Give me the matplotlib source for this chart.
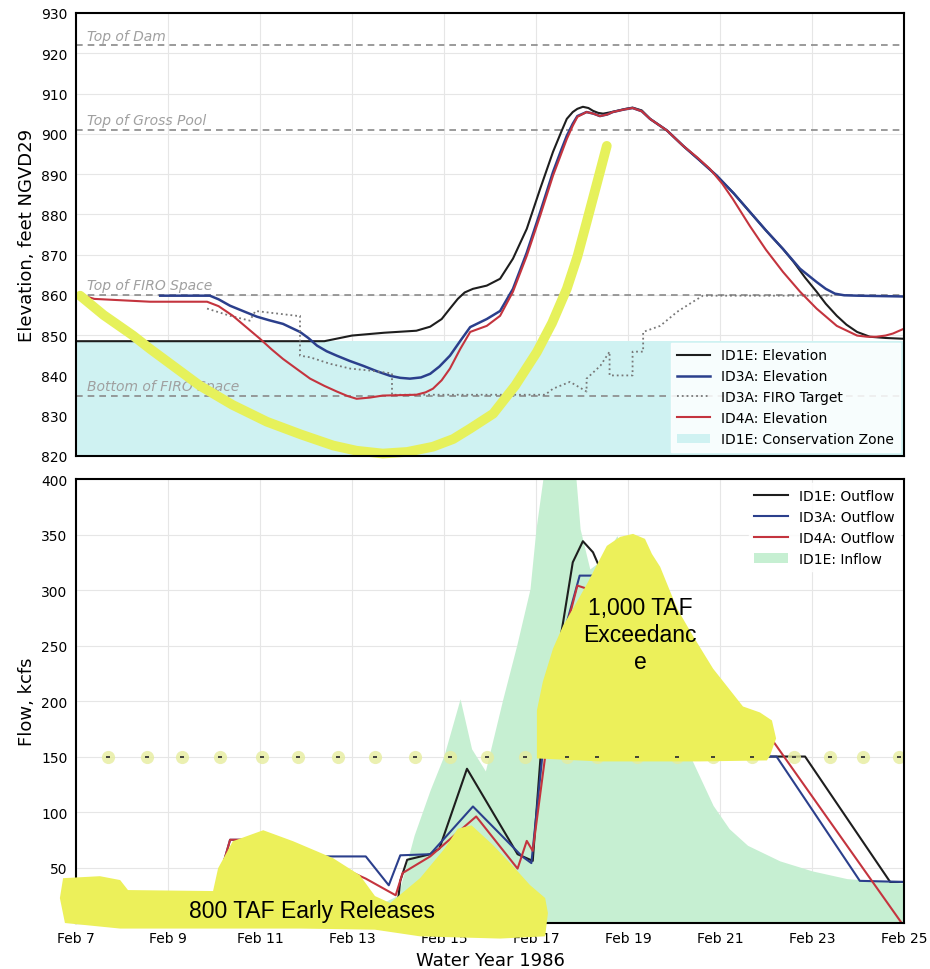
import matplotlib.pyplot as plt
from matplotlib.lines import Line2D
from matplotlib.patches import Patch

# days counted from Feb 7, 1986
tick_days = [0, 2, 4, 6, 8, 10, 12, 14, 16, 18]
tick_labels = ['Feb 7', 'Feb 9', 'Feb 11', 'Feb 13', 'Feb 15',
               'Feb 17', 'Feb 19', 'Feb 21', 'Feb 23', 'Feb 25']

# --- elevation panel ---
id1e_d = [0, 5.4, 5.7, 6.0, 6.7, 7.4, 7.7, 7.95, 8.13, 8.3, 8.45, 8.63, 8.93, 9.22, 9.5,
          9.8, 10.09, 10.37, 10.55, 10.67, 10.8, 10.9, 11.02, 11.14, 11.24, 11.35, 11.46,
          11.6, 11.76, 11.95, 12.1, 12.3, 12.48, 12.85, 13.2, 13.55, 13.93, 14.3, 14.65,
          15.0, 15.37, 15.6, 15.85, 16.1, 16.3, 16.54, 16.75, 16.98, 17.26, 17.6, 18]
id1e_e = [848.5, 848.5, 849.2, 849.9, 850.6, 851.1, 852.1, 854.0, 856.6, 859.0, 860.6, 861.5,
          862.3, 864, 869, 876.4, 886.3, 895.5, 900.5, 903.7, 905.4, 906.2, 906.7, 906.4,
          905.7, 905.2, 905, 905.3, 905.7, 906.2, 906.5, 905.8, 903.7, 900.8, 897, 893.5,
          889.6, 885.2, 880.6, 876, 871.4, 868.2, 864.3, 860.8, 857.8, 854.8, 852.6, 850.8,
          849.6, 849.3, 849.1]

id3a_d = [1.83, 2.91, 3.1, 3.35, 3.65, 3.93, 4.2, 4.5, 4.87, 5.05, 5.24, 5.45, 5.67, 5.95,
          6.24, 6.55, 6.83, 7.05, 7.26, 7.5, 7.7, 7.9, 8.13, 8.35, 8.57, 8.93, 9.22, 9.5,
          9.8, 10.09, 10.37, 10.55, 10.67, 10.8, 10.9, 11.1, 11.25, 11.39, 11.55, 11.67,
          11.9, 12.1, 12.3, 12.48, 12.85, 13.2, 13.55, 13.93, 14.3, 14.65, 15.0, 15.37,
          15.74, 16.1, 16.3, 16.5, 16.7, 17.0, 18]
id3a_e = [859.8, 859.8, 858.9, 857.3, 855.9, 854.6, 853.7, 852.8, 850.8, 849.3, 847.4, 846.0,
          844.9, 843.6, 842.4, 841.0, 839.9, 839.4, 839.2, 839.5, 840.4, 842.2, 844.9, 848.5,
          852.0, 854.0, 856.0, 861.5, 870.5, 880.5, 890.5, 896.0, 899.5, 902.5, 904.4,
          905.4, 905.0, 904.4, 904.8, 905.4, 906.0, 906.4, 905.6, 903.7, 900.8, 897, 893.5,
          889.6, 885.2, 880.6, 876, 871.4, 866.5, 863.2, 861.5, 860.3, 859.9, 859.8, 859.6]

firo_d = [2.85, 3.35, 3.78, 3.9, 4.8, 4.87, 4.87, 5.09, 5.52, 5.96, 6.4, 6.87, 6.87, 10.2,
          10.37, 10.74, 11.1, 11.1, 11.4, 11.6, 11.6, 11.9, 12.1, 12.1, 12.33, 12.33, 12.7,
          13.07, 13.4, 13.63, 16.5]
firo_e = [856.6, 854.8, 853.6, 856, 854.8, 854.8, 844.9, 844.5, 842.9, 841.7, 841.2, 840.5,
          835.2, 835.2, 836.7, 838.4, 836.0, 839.2, 842.4, 845.9, 840, 840, 840, 845.9, 845.9,
          850.8, 852.3, 855.8, 858.2, 859.8, 859.8]

id4a_d = [0.1, 0.4, 1.61, 2.85, 3.1, 3.41, 3.7, 4.0, 4.25, 4.5, 4.8, 5.09, 5.4, 5.67, 5.9,
          6.1, 6.39, 6.67, 7.4, 7.6, 7.76, 7.95, 8.13, 8.35, 8.57, 8.93, 9.22, 9.5, 9.8,
          10.09, 10.37, 10.67, 10.8, 10.9, 11.1, 11.25, 11.39, 11.55, 11.67, 11.9, 12.1,
          12.3, 12.48, 12.85, 13.2, 13.5, 13.78, 14.05, 14.28, 14.65, 15.0, 15.37, 15.74,
          16.1, 16.54, 16.98, 17.2, 17.4, 17.6, 17.76, 18]
id4a_e = [860, 859, 858.3, 858.3, 857.2, 854.8, 852.0, 849.1, 846.5, 844.1, 841.6, 839.2,
          837.4, 836, 834.9, 834.2, 834.5, 835, 835.2, 835.8, 836.7, 838.8, 841.7, 846.5,
          850.8, 852.3, 854.8, 860.8, 869.7, 879.6, 889.6, 898.7, 902.0, 904.2, 905.4,
          905.0, 904.4, 904.8, 905.4, 906.0, 906.4, 905.6, 903.7, 900.8, 897, 894.2, 891.3,
          887.6, 883.8, 877.1, 871.2, 865.7, 860.8, 856.6, 852.3, 849.9, 849.6, 849.6,
          849.9, 850.4, 851.6]

cz_days = [0, 18]
cz_top = [848.5, 848.5]
ref_levels = [922, 901, 860, 835]
ref_names = ['Top of Dam', 'Top of Gross Pool', 'Top of FIRO Space', 'Bottom of FIRO Space']

# hand-drawn highlighter curve
hl_d = [0.09, 0.6, 1.24, 1.61, 2.7, 3.4, 4.15, 4.9, 5.59, 6.1, 6.67, 7.2, 7.76, 8.2, 8.57,
        9.07, 9.55, 10.02, 10.35, 10.67, 10.9, 11.1, 11.39, 11.54]
hl_e = [859.8, 855.0, 849.9, 846.6, 837.4, 832.7, 828.5, 825.3, 822.6, 821.3, 820.6, 821.0,
        822.3, 824.2, 826.8, 830.5, 837.5, 845.8, 853.0, 861.5, 869.5, 878, 890.5, 897]

# --- flow panel ---
inflow_d = [0, 6.5, 7.0, 7.35, 7.7, 8.0, 8.35, 8.6, 8.9, 9.28, 9.58, 9.87, 10.0, 10.15, 10.6,
            10.85, 10.96, 11.17, 11.46, 11.76, 12.2, 12.6, 13.0, 13.4, 13.85, 14.2, 14.6,
            15.3, 16.0, 16.76, 18]
inflow_f = [12, 15, 25, 79, 120, 151, 202, 157, 137, 202, 250, 301, 355, 400, 440,
            410, 355, 319, 328, 349, 300, 240, 185, 146, 106, 85, 70, 56, 47, 40, 36]

out1e_d = [0, 6.95, 7.05, 7.2, 7.7, 7.9, 8.5, 9.6, 9.93, 10.1, 10.3, 10.59, 10.8, 11.02,
           11.24, 11.46, 12.0, 13.0, 14.0, 14.9, 15.85, 17.7, 18]
out1e_f = [2, 2, 38, 57, 62, 67, 139, 62, 56, 150, 200, 271, 325, 344, 334, 313, 250, 200,
           160, 150, 150, 37, 37]

out3a_d = [0, 2.85, 3.35, 3.6, 4.6, 5.37, 6.3, 6.8, 7.05, 7.7, 8.63, 9.7, 9.9, 10.15, 10.6,
           10.95, 11.25, 11.5, 12.5, 14.0, 14.93, 15.23, 17.04, 18]
out3a_f = [2, 2, 75, 75, 68, 60, 60, 34, 61, 62, 105, 60, 54, 155, 260, 313, 313, 290, 230,
           170, 150, 150, 38, 37]

out4a_d = [0, 2.85, 3.35, 3.6, 4.3, 5.1, 5.5, 6.3, 6.95, 7.1, 7.7, 8.7, 9.6, 9.8, 9.93, 10.2,
           10.5, 10.9, 11.2, 11.5, 12.5, 14.0, 15.05, 17.95, 18]
out4a_f = [2, 2, 75, 75, 72, 64, 55, 40, 25, 45, 60, 96, 49, 74, 65, 150, 240, 304, 300, 280,
           230, 185, 170, 0, 0]

# highlighter marks on the 150 kcfs line
mark_d = [0.7, 1.54, 2.3, 3.13, 4.04, 4.83, 5.7, 6.5, 7.37, 8.13, 8.93, 9.76, 10.67, 11.33,
          12.2, 13.07, 13.85, 14.7, 15.6, 16.4, 17.1, 17.9]
mark_f = [150] * len(mark_d)

blob1_d = [-0.35, -0.28, 0.52, 0.96, 1.13, 2.98, 3.09, 3.41, 4.07, 4.72, 5.59, 6.17, 6.5,
           6.83, 7.48, 8.02, 8.3, 8.6, 9.07, 9.54, 9.87, 10.2, 10.26, 10.2, 9.22, 7.48, 6.5,
           4.87, 2.7, 0.96, -0.24]
blob1_f = [22.5, 40.4, 42.2, 38.7, 29.7, 28.8, 49.4, 73.7, 83.6, 73.7, 58.4, 43.1, 24.3,
           18.0, 40.4, 67.4, 85, 88, 70.1, 49.4, 34.2, 22.5, 9.0, -12, -14, -12, -6, -5, -5,
           -5, 0]

blob2_d = [10.02, 10.02, 10.15, 10.37, 10.59, 10.89, 11.11, 11.54, 11.83, 12.11, 12.37, 12.52,
           12.7, 13.07, 13.41, 13.85, 14.5, 14.87, 15.13, 15.22, 15.09, 15.02, 13.57, 11.39]
blob2_f = [148.3, 191.5, 217.5, 247.2, 267.9, 289.4, 305.6, 339.8, 347.9, 350.6, 346.1, 332.6,
           320.9, 283.1, 258.9, 229.2, 195.1, 189.7, 182.5, 166.3, 151, 146.5, 145.6, 145.6]

c_black = '#1e1e1e'
c_blue = '#2b3f8c'
c_red = '#c4343e'
c_hl = '#ecf05a'

plt.rcParams['font.family'] = ['DejaVu Sans']

fig = plt.figure(figsize=(9.3, 9.7), dpi=100)
ax1 = fig.add_axes([0.0817, 0.5289, 0.8903, 0.4567])
ax2 = fig.add_axes([0.0817, 0.0474, 0.8903, 0.4577])

# Elevation panel
ax1.fill_between(cz_days, 820, cz_top, color='#cff2f2', lw=0, zorder=1)
for lev, name in zip(ref_levels, ref_names):
    ax1.axhline(lev, color='#8a8a8a', ls=(0, (4, 3)), lw=1.2, zorder=2)
    ax1.text(0.25, lev + 0.6, name, color='#a0a0a0', style='italic', fontsize=10,
             va='bottom', zorder=2)
ax1.plot(id1e_d, id1e_e, color=c_black, lw=1.5, zorder=3)
ax1.plot(id3a_d, id3a_e, color=c_blue, lw=1.8, zorder=3)
ax1.plot(firo_d, firo_e, color='#777777', ls=':', lw=1.3, zorder=3)
ax1.plot(id4a_d, id4a_e, color=c_red, lw=1.5, zorder=3)
ax1.plot(hl_d, hl_e, color='#e6f15b', lw=7, solid_capstyle='round', zorder=6, clip_on=False)

ax1.set_xlim(0, 18)
ax1.set_ylim(820, 930)
ax1.set_yticks(range(820, 931, 10))
ax1.set_xticks(tick_days)
ax1.set_xticklabels([])
ax1.set_ylabel('Elevation, feet NGVD29', fontsize=13)

h1 = [Line2D([], [], color=c_black, lw=1.5),
      Line2D([], [], color=c_blue, lw=1.8),
      Line2D([], [], color='#777777', ls=':', lw=1.3),
      Line2D([], [], color=c_red, lw=1.5),
      Patch(facecolor='#cff2f2', edgecolor='none')]
l1 = ['ID1E: Elevation', 'ID3A: Elevation', 'ID3A: FIRO Target', 'ID4A: Elevation',
      'ID1E: Conservation Zone']
leg1 = ax1.legend(h1, l1, loc='lower right', fontsize=10, frameon=True, framealpha=0.85,
                  edgecolor='white', fancybox=False, borderaxespad=0.3, labelspacing=0.5,
                  handlelength=2.4)
leg1.set_zorder(5)

# Flow panel
ax2.fill_between(inflow_d, 0, inflow_f, color='#c6efd2', lw=0, zorder=1)
ax2.plot(out1e_d, out1e_f, color=c_black, lw=1.5, zorder=3)
ax2.plot(out3a_d, out3a_f, color=c_blue, lw=1.5, zorder=3)
ax2.plot(out4a_d, out4a_f, color=c_red, lw=1.5, zorder=3)
ax2.scatter(mark_d, mark_f, s=90, color='#e6ed9e', alpha=0.8, lw=0, zorder=4)
ax2.fill(blob1_d, blob1_f, color=c_hl, lw=0, zorder=8, clip_on=False)
ax2.fill(blob2_d, blob2_f, color=c_hl, lw=0, zorder=8, clip_on=False)
ax2.scatter(mark_d, mark_f, s=10, marker='_', color='#333333', lw=1.3, zorder=9)
ax2.text(5.13, 11.7, '800 TAF Early Releases', family='Liberation Sans', fontsize=16.5,
         ha='center', va='center', color='black', zorder=10)
ax2.text(12.26, 260, '1,000 TAF\nExceedanc\ne', family='Liberation Sans', fontsize=16.5,
         ha='center', va='center', linespacing=1.2, color='black', zorder=10)

ax2.set_xlim(0, 18)
ax2.set_ylim(0, 400)
ax2.set_yticks(range(50, 401, 50))
ax2.set_xticks(tick_days)
ax2.set_xticklabels(tick_labels)
ax2.set_ylabel('Flow, kcfs', fontsize=13)
ax2.set_xlabel('Water Year 1986', fontsize=13, labelpad=4)

h2 = [Line2D([], [], color=c_black, lw=1.5),
      Line2D([], [], color=c_blue, lw=1.5),
      Line2D([], [], color=c_red, lw=1.5),
      Patch(facecolor='#c6efd2', edgecolor='none')]
l2 = ['ID1E: Outflow', 'ID3A: Outflow', 'ID4A: Outflow', 'ID1E: Inflow']
leg2 = ax2.legend(h2, l2, loc='upper right', fontsize=10, frameon=True, framealpha=0.85,
                  edgecolor='white', fancybox=False, borderaxespad=0.3, labelspacing=0.5,
                  handlelength=2.4)
leg2.set_zorder(5)

for ax in (ax1, ax2):
    ax.grid(True, color='#e6e6e6', lw=0.8, zorder=0)
    ax.set_axisbelow(True)
    ax.tick_params(axis='both', labelsize=10, length=0, pad=6)
    for sp in ax.spines.values():
        sp.set_color('black')
        sp.set_linewidth(1.5)
        sp.set_zorder(7)

fig.savefig('out.png', dpi=100)
